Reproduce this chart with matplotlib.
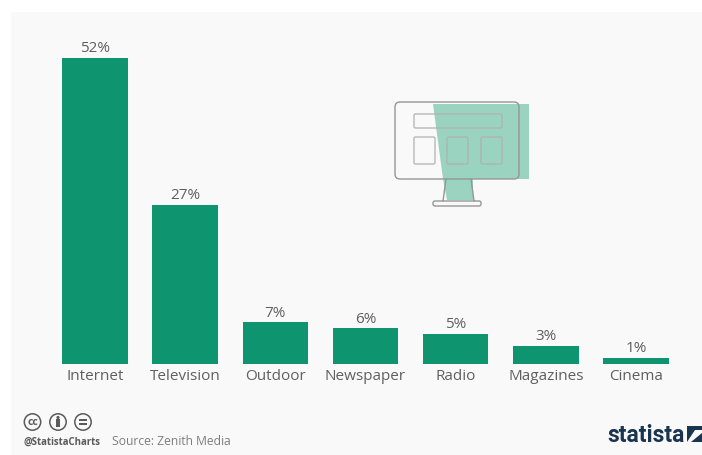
import matplotlib
matplotlib.use("Agg")
import matplotlib.pyplot as plt
from matplotlib.patches import Rectangle, FancyBboxPatch, Circle, Polygon

W = 702
H = 456

categories = ["Internet", "Television", "Outdoor", "Newspaper", "Radio", "Magazines", "Cinema"]
shares = [52, 27, 7, 6, 5, 3, 1]

GREEN = "#0f9470"
LIGHT = "#9bd3c1"
GREY = "#5f5f5f"
LINE = "#969696"

plt.rcParams["font.family"] = ["Open Sans", "DejaVu Sans"]

fig = plt.figure(figsize=(W / 100, H / 100), dpi=100, facecolor="white")

# overlay in pixel coordinates for background, icon and footer
bg = fig.add_axes([0, 0, 1, 1], zorder=0)
bg.set_xlim(0, W)
bg.set_ylim(H, 0)
bg.axis("off")
bg.add_patch(Rectangle((11, 13), W - 11, H - 13, fc="#f9f9f9", ec="none"))

# bars
left, right, top, base = 50, 680, 20, 364.6
step = 90.17
ax = fig.add_axes([left / W, 1 - base / H, (right - left) / W, (base - top) / H], zorder=1)
ax.patch.set_alpha(0)
ax.set_xlim((left - 95) / step, (right - 95) / step)
ax.set_ylim(0, (base - top) / 5.885)
bars = ax.bar(range(len(categories)), shares, width=0.727, color=GREEN)
ax.bar_label(bars, labels=[f"{v}%" for v in shares], padding=2, fontsize=11, color=GREY)
ax.set_xticks(range(len(categories)))
ax.set_xticklabels(categories, fontsize=11, color=GREY)
ax.tick_params(axis="x", length=0, pad=3)
ax.set_yticks([])
for s in ax.spines.values():
    s.set_visible(False)

# monitor icon
bg.add_patch(Polygon([(433, 105), (529, 105), (529, 180), (473, 180), (473, 201), (447, 201), (443, 180)],
                     fc=LIGHT, ec="none", zorder=1))
def outline(x, y, w, h, r=1.5, lw=1.0, color=LINE):
    bg.add_patch(FancyBboxPatch((x + r, y + r), w - 2 * r, h - 2 * r, boxstyle=f"round,pad={r},rounding_size={r}",
                                fc="none", ec=color, lw=lw, zorder=2))

outline(395, 103, 124, 77, r=5)
outline(414, 115, 88, 14, lw=0.9, color="#b0b0b0")
outline(414, 138, 21, 27, lw=0.9, color="#b0b0b0")
outline(447, 138, 21, 27, lw=0.9, color="#b0b0b0")
outline(481, 138, 21, 27, lw=0.9, color="#b0b0b0")
bg.plot([446, 443], [180, 202], color=LINE, lw=1.0, zorder=2)
bg.plot([471, 474], [180, 202], color=LINE, lw=1.0, zorder=2)
outline(433, 202, 48, 5, r=2)

# licence badges
for cx in (32.5, 58, 83):
    bg.add_patch(Circle((cx, 423), 8.2, fc="none", ec="#5a5a5a", lw=1.1, zorder=2))
bg.text(32.5, 422.5, "cc", fontsize=7.5, fontweight="bold", color="#5a5a5a", ha="center", va="center")
bg.add_patch(Circle((58, 418.5), 1.6, fc="#5a5a5a", ec="none", zorder=3))
bg.add_patch(Rectangle((55.8, 420.5), 4.4, 8, fc="#5a5a5a", ec="none", zorder=3))
bg.add_patch(Rectangle((79, 420.5), 8, 1.5, fc="#5a5a5a", ec="none", zorder=3))
bg.add_patch(Rectangle((79, 424.5), 8, 1.5, fc="#5a5a5a", ec="none", zorder=3))

# footer
bg.text(23, 442, "@StatistaCharts", fontsize=6.9, fontweight="bold", color="#5a5a5a", ha="left", va="center")
bg.text(112, 442, "Source: Zenith Media", fontsize=8.7, color="#7d7d7d", ha="left", va="center")
bg.text(607, 436, "statista", fontsize=16.5, fontweight="bold", family=["Roboto", "Open Sans"],
        color="#1a3550", ha="left", va="center")
bg.add_patch(Polygon([(687, 427), (702, 427), (702, 431), (695, 431), (687, 443)], fc="#1a3550", ec="none"))
bg.add_patch(Polygon([(702, 434), (702, 443), (691, 443)], fc="#1a3550", ec="none"))

fig.savefig("out.png", dpi=100, facecolor=fig.get_facecolor())
